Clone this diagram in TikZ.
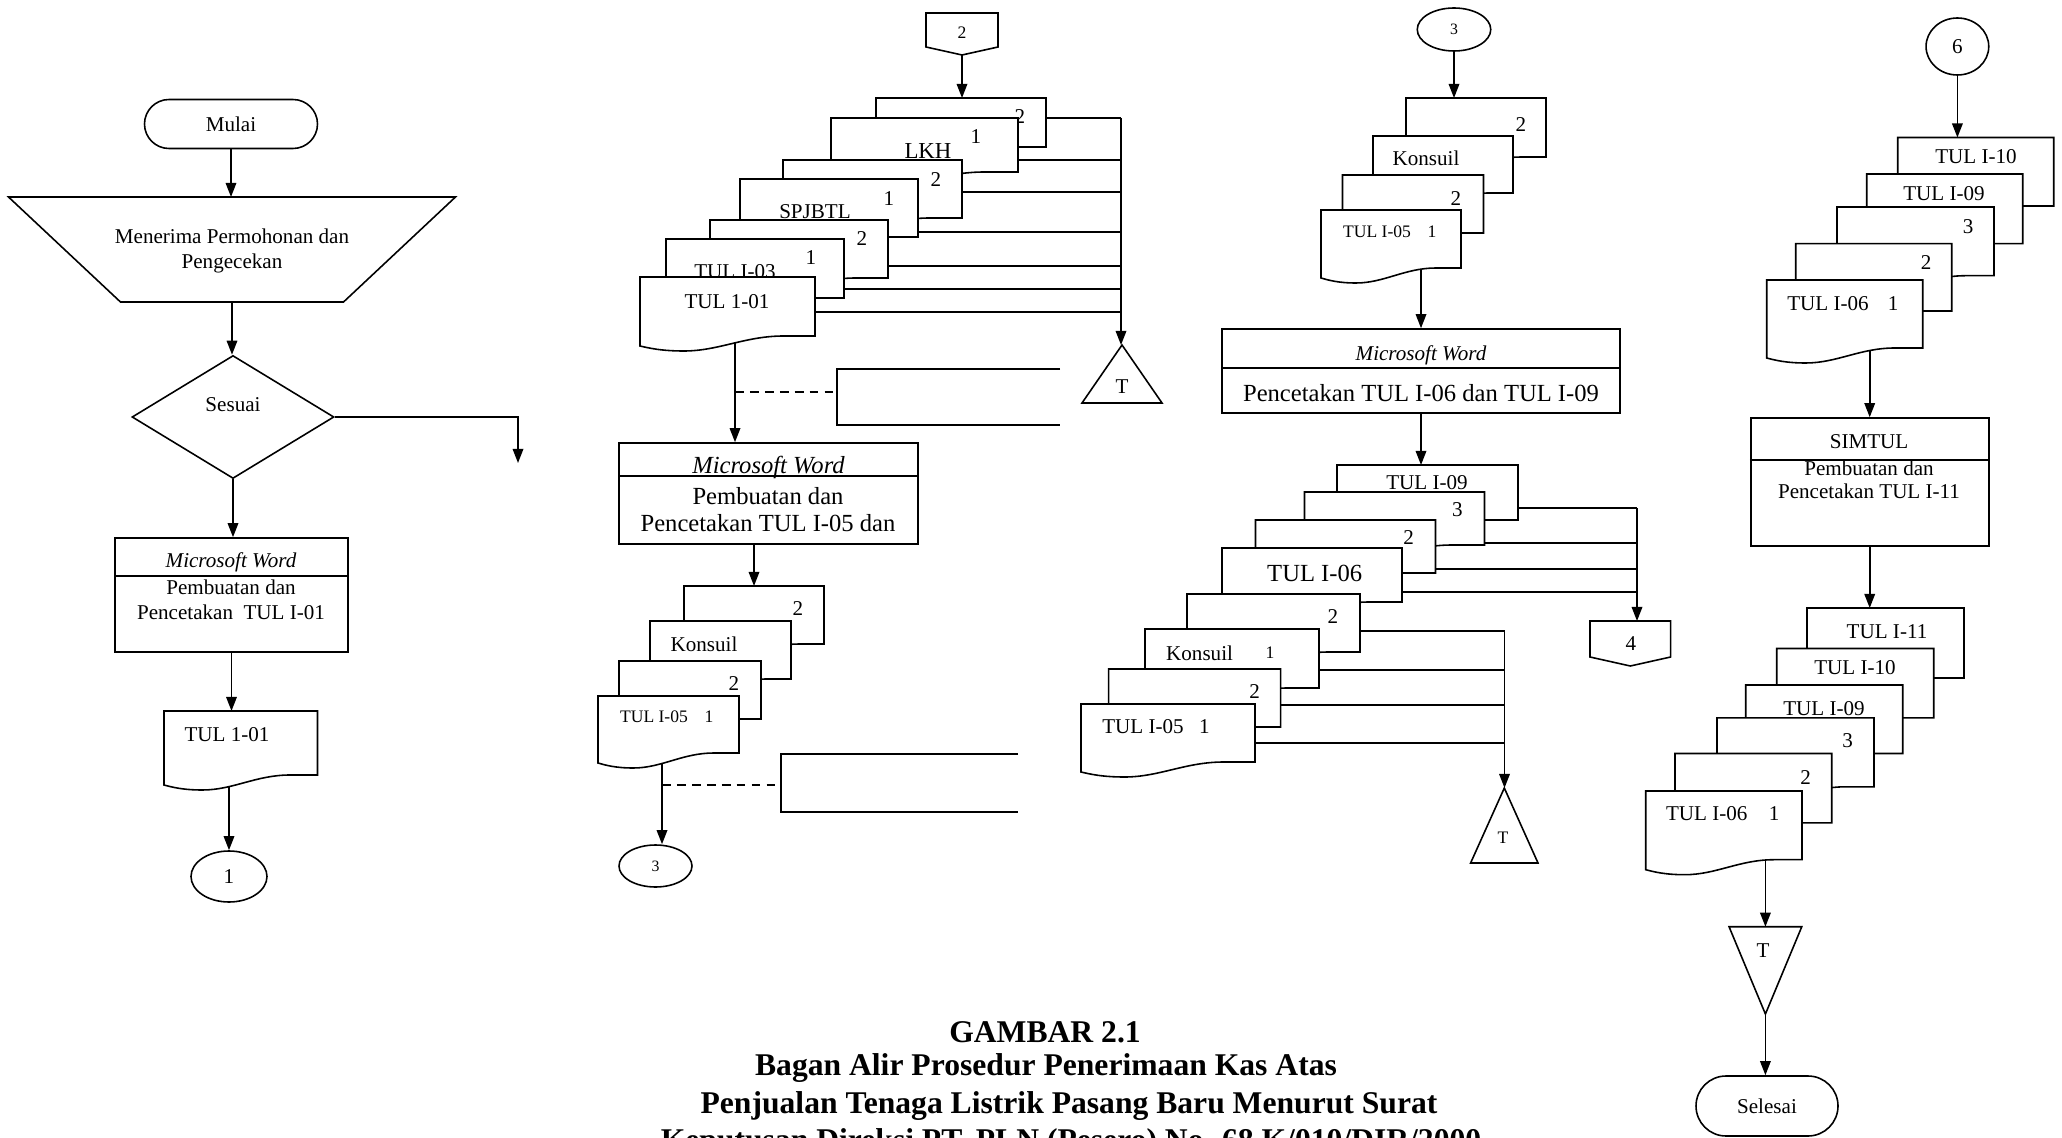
\documentclass[tikz,border=0pt]{standalone}
\usepackage{fontspec}
\setmainfont{Liberation Serif}
\usetikzlibrary{arrows.meta,shapes.geometric,shapes.misc,backgrounds}
\def\pxu{0.02cm}
\newcommand{\docu}[5]{%
  \draw[docline] (#2,#3) -- ({#2+#4},#3) -- ({#2+#4},{#3+#5}) -- ({#2+0.82*#4},{#3+#5})
    .. controls ({#2+0.6*#4},{#3+#5}) and ({#2+0.45*#4},{#3+#5+15}) .. ({#2+0.25*#4},{#3+#5+15})
    .. controls ({#2+0.12*#4},{#3+#5+15}) and ({#2+0.05*#4},{#3+#5+12}) .. (#2,{#3+#5+10}) -- cycle;
  \node[hold, minimum width={#4*\pxu}, minimum height={#5*\pxu}] (#1) at ({#2+0.5*#4},{#3+0.5*#5}) {};}
\begin{document}
\begin{tikzpicture}[x=0.02cm, y=-0.02cm,
    ln/.style={line width=0.9pt},
    flow/.style={line width=0.9pt, -{Triangle[length=8pt,width=6pt]}},
    docline/.style={draw, line width=0.9pt, fill=white},
    box/.style={draw, line width=0.9pt, fill=white, inner sep=0pt},
    hold/.style={inner sep=0pt, outer sep=0pt},
    lbl/.style={inner sep=0pt, font=\fontsize{12}{14}\selectfont},
    sml/.style={inner sep=0pt, font=\fontsize{10}{12}\selectfont},
    big/.style={inner sep=0pt, font=\fontsize{14}{16}\selectfont},
    captext/.style={inner sep=0pt, font=\bfseries\fontsize{18}{20}\selectfont}]
  \useasboundingbox (0,0) rectangle (2062,1138);
  \clip (0,0) rectangle (2062,1138);

  \node[box, rounded rectangle, minimum width={173*\pxu}, minimum height={49*\pxu}, lbl] (mulai) at (231,124) {Mulai};
  \node[hold, minimum width={447*\pxu}, minimum height={105*\pxu}] (terima) at (232,249.5) {};
  \draw[docline] (terima.north west) -- (terima.north east) -- ([xshift=-2.24cm]terima.south east) -- ([xshift=2.24cm]terima.south west) -- cycle;
  \node[lbl, align=center] (terimat) at (232,251) {Menerima Permohonan dan\\Pengecekan};
  \node[box, diamond, minimum width={202*\pxu}, minimum height={123*\pxu}] (sesuai) at (233,417) {};
  \node[lbl] (sesuait) at (233,405) {Sesuai};
  \coordinate (ya) at (518,463);
  \node[box, minimum width={233*\pxu}, minimum height={114*\pxu}] (mw1) at (231.5,595) {};
  \node[lbl, font=\itshape\fontsize{12}{14}\selectfont] (mw1a) at (231,562) {Microsoft Word};
  \node[lbl] (mw1b) at (231,587) {Pembuatan dan};
  \node[lbl] (mw1c) at (231,612) {Pencetakan\ \ TUL I-01};
  \draw[ln] ([yshift=-0.78cm]mw1.north west) -- ([yshift=-0.78cm]mw1.north east);
  \docu{d00}{164}{711}{153.5}{64}
  \node[lbl] (t00) at (227,735) {TUL 1-01};
  \node[box, ellipse, minimum width={76*\pxu}, minimum height={51*\pxu}, lbl] (c1) at (229,876.5) {1};

  \draw[flow] (mulai.south) -- (mulai.south |- terima.north);
  \draw[flow] (terima.south) -- (terima.south |- sesuai.north);
  \draw[flow] (sesuai.east) -- (sesuai.east -| ya) -- (ya);
  \draw[flow] (sesuai.south) -- (sesuai.south |- mw1.north);
  \draw[flow] (mw1.south) -- (mw1.south |- d00.north);

  \node[hold, minimum width={72*\pxu}, minimum height={42*\pxu}] (con2) at (962,34) {};
  \draw[docline] (con2.north west) -- (con2.north east) -- ([yshift=0.16cm]con2.south east) -- (con2.south) -- ([yshift=0.16cm]con2.south west) -- cycle;
  \node[sml] (con2t) at (962,33) {2};

  \docu{d10}{876}{98}{170}{49}
  \node[lbl] (t10) at (1020,117) {2};
  \docu{d11}{831}{118}{187}{54}
  \node[lbl] (t11) at (976,137) {1};
  \node[lbl, font=\fontsize{13}{15}\selectfont] (t11b) at (928,151) {LKH};
  \docu{d12}{783}{160}{179}{58}
  \node[lbl] (t12) at (936,180) {2};
  \docu{d13}{740}{179}{178}{58}
  \node[lbl] (t13) at (889,199) {1};
  \node[lbl] (t13b) at (815,212) {SPJBTL};
  \docu{d14}{710}{220}{178}{58}
  \node[lbl] (t14) at (862,239) {2};
  \docu{d15}{666}{239}{178}{59}
  \node[lbl] (t15) at (811,258) {1};
  \node[lbl] (t15b) at (735,272) {TUL I-03};
  \docu{d16}{640}{277}{175}{59}
  \node[lbl] (t16) at (727,302) {TUL 1-01};

  \node[hold, minimum width={80*\pxu}, minimum height={58*\pxu}] (tri1) at (1122,374) {};
  \draw[docline] (tri1.south west) -- (tri1.north) -- (tri1.south east) -- cycle;
  \node[lbl] (tri1t) at (1122,387) {T};
  \foreach \dn/\y [count=\i] in {d10/118, d11/160, d12/192, d13/232, d14/266, d15/289, d16/312}{
    \coordinate (k\i) at (1121,\y);
    \draw[ln] (\dn.east |- k\i) -- (k\i);}
  \draw[flow] (k1) -- (k1 |- tri1.north);
  \draw[flow] (con2.south) -- (con2.south |- d10.north);

  \node[hold, minimum width={223*\pxu}, minimum height={56*\pxu}] (ann1) at (948.5,397) {};
  \draw[ln] (ann1.north east) -- (ann1.north west) -- (ann1.south west) -- (ann1.south east);
  \coordinate (j1) at (735,392);
  \draw[ln, dash pattern=on 5pt off 3.5pt] (j1) -- (j1 -| ann1.west);

  \node[box, minimum width={299*\pxu}, minimum height={101*\pxu}] (mw2) at (768.5,493.5) {};
  \node[big, font=\itshape\fontsize{14}{16}\selectfont] (mw2a) at (768.5,467) {Microsoft Word};
  \node[big] (mw2b) at (768,496) {Pembuatan dan};
  \node[big] (mw2c) at (768,523) {Pencetakan TUL I-05 dan};
  \draw[ln] ([yshift=-0.68cm]mw2.north west) -- ([yshift=-0.68cm]mw2.north east);

  \docu{d20}{684}{586}{140}{58}
  \node[lbl] (t20) at (798,609) {2};
  \docu{d21}{650}{621}{141}{58}
  \node[lbl] (t21) at (704,644) {Konsuil};
  \docu{d22}{619}{661}{142}{58}
  \node[lbl] (t22) at (734,684) {2};
  \docu{d23}{598}{696}{141}{57}
  \node[sml] (t23) at (654,717) {TUL I-05};
  \node[sml] (t23b) at (709,717) {1};
  \draw[flow] (d20.north |- mw2.south) -- (d20.north);

  \node[hold, minimum width={237*\pxu}, minimum height={58*\pxu}] (ann2) at (899.5,783) {};
  \draw[ln] (ann2.north east) -- (ann2.north west) -- (ann2.south west) -- (ann2.south east);
  \coordinate (j2) at (662,785);
  \draw[ln, dash pattern=on 5pt off 3.5pt] (j2) -- (j2 -| ann2.west);
  \node[box, ellipse, minimum width={73*\pxu}, minimum height={42*\pxu}, font=\fontsize{9}{10}\selectfont] (c3a) at (655.5,866) {3};

  \node[box, ellipse, minimum width={73.5*\pxu}, minimum height={43*\pxu}, font=\fontsize{9}{10}\selectfont] (c3b) at (1454,29.5) {3};
  \docu{d30}{1406}{98}{140}{59}
  \node[lbl] (t30) at (1521,125) {2};
  \docu{d31}{1373}{136}{140}{57}
  \node[lbl] (t31) at (1426,158) {Konsuil};
  \docu{d32}{1342.5}{175}{141}{58}
  \node[lbl] (t32) at (1456,199) {2};
  \docu{d33}{1321}{210}{140}{58}
  \node[sml] (t33) at (1377,232) {TUL I-05};
  \node[sml] (t33b) at (1432,232) {1};
  \draw[flow] (c3b.south) -- (c3b.south |- d30.north);

  \node[box, minimum width={398*\pxu}, minimum height={84*\pxu}] (mw3) at (1421,371) {};
  \node[lbl, font=\itshape\fontsize{12}{14}\selectfont] (mw3a) at (1421,355) {Microsoft Word};
  \node[big] (mw3b) at (1421,393) {Pencetakan TUL I-06 dan TUL I-09};
  \draw[ln] ([yshift=-0.8cm]mw3.north west) -- ([yshift=-0.8cm]mw3.north east);

  \docu{d40}{1337}{465}{181}{55}
  \node[lbl] (t40) at (1427,483) {TUL I-09};
  \docu{d41}{1304.5}{492}{180}{53}
  \node[lbl] (t41) at (1457.5,510) {3};
  \docu{d42}{1255.5}{520}{180}{53}
  \node[lbl] (t42) at (1408.6,538) {2};
  \docu{d43}{1222}{548}{180}{54}
  \node[big] (t43) at (1314.7,573) {TUL I-06};
  \docu{d44}{1187}{594}{173}{58}
  \node[lbl] (t44) at (1333,617) {2};
  \docu{d45}{1145}{629}{174}{59}
  \node[lbl] (t45) at (1199.6,653) {Konsuil};
  \node[sml] (t45b) at (1270,653) {1};
  \docu{d46}{1108.6}{669}{172}{58}
  \node[lbl] (t46) at (1254.7,692) {2};
  \docu{d47}{1081}{704}{174}{58}
  \node[lbl] (t47) at (1143,727) {TUL I-05};
  \node[lbl] (t47b) at (1204.5,727) {1};
  \draw[flow] (mw3.south) -- (mw3.south |- d40.north);

  \node[hold, minimum width={80.6*\pxu}, minimum height={45*\pxu}] (con4) at (1630.3,643.5) {};
  \draw[docline] (con4.north west) -- (con4.north east) -- ([yshift=0.18cm]con4.south east) -- (con4.south) -- ([yshift=0.18cm]con4.south west) -- cycle;
  \node[lbl] (con4t) at (1631,644) {4};
  \foreach \dn/\y [count=\i] in {d40/508, d41/543, d42/569, d43/592}{
    \coordinate (r\i) at (1637,\y);
    \draw[ln] (\dn.east |- r\i) -- (r\i);}
  \draw[flow] (r1) -- (r1 |- con4.north);

  \node[hold, minimum width={67.4*\pxu}, minimum height={75*\pxu}] (tri2) at (1504.3,825.5) {};
  \draw[docline] (tri2.south west) -- (tri2.north) -- (tri2.south east) -- cycle;
  \node[sml] (tri2t) at (1503,838) {T};
  \foreach \dn/\y [count=\i] in {d44/631, d45/670, d46/705, d47/743}{
    \coordinate (q\i) at (1504.5,\y);
    \draw[ln] (\dn.east |- q\i) -- (q\i);}
  \draw[flow] (q1) -- (q1 |- tri2.north);

  \node[box, ellipse, minimum width={62.7*\pxu}, minimum height={57*\pxu}, lbl] (c6) at (1957.4,46.5) {6};
  \docu{d50}{1897.7}{137.5}{156}{68.5}
  \node[lbl] (t50) at (1976,157) {TUL I-10};
  \docu{d51}{1866.7}{174}{156}{69.6}
  \node[lbl] (t51) at (1944,193.6) {TUL I-09};
  \docu{d52}{1837}{207}{157}{68.7}
  \node[lbl] (t52) at (1968,227) {3};
  \docu{d53}{1795.7}{243.6}{156}{67.4}
  \node[lbl] (t53) at (1926,262.5) {2};
  \docu{d54}{1766.7}{280}{156}{68}
  \node[lbl] (t54) at (1828,304) {TUL I-06};
  \node[lbl] (t54b) at (1893,304) {1};
  \draw[flow] (c6.south) -- (c6.south |- d50.north);

  \node[box, minimum width={238*\pxu}, minimum height={128*\pxu}] (mw5) at (1869.7,482) {};
  \node[lbl] (mw5a) at (1869,442) {SIMTUL};
  \node[lbl] (mw5b) at (1869,468) {Pembuatan dan};
  \node[lbl] (mw5c) at (1869,491) {Pencetakan TUL I-11};
  \draw[ln] ([yshift=-0.86cm]mw5.north west) -- ([yshift=-0.86cm]mw5.north east);

  \docu{d60}{1807}{608}{157}{70}
  \node[lbl] (t60) at (1887,632) {TUL I-11};
  \docu{d61}{1776.7}{648.5}{157}{69.3}
  \node[lbl] (t61) at (1855,667.6) {TUL I-10};
  \docu{d62}{1745.7}{685}{157}{68.5}
  \node[lbl] (t62) at (1824,709) {TUL I-09};
  \docu{d63}{1717}{717.8}{157}{69}
  \node[lbl] (t63) at (1847.7,741) {3};
  \docu{d64}{1675}{753.5}{156.7}{69.3}
  \node[lbl] (t64) at (1805.7,777.5) {2};
  \docu{d65}{1645.7}{791}{156.3}{68.7}
  \node[lbl] (t65) at (1706.7,813.6) {TUL I-06};
  \node[lbl] (t65b) at (1774,813.6) {1};
  \draw[flow] (mw5.south) -- (mw5.south |- d60.north);

  \node[hold, minimum width={72.7*\pxu}, minimum height={87.3*\pxu}] (tri3) at (1765.4,970.4) {};
  \draw[docline] (tri3.north west) -- (tri3.south) -- (tri3.north east) -- cycle;
  \node[lbl] (tri3t) at (1763,950.7) {T};
  \node[box, rounded rectangle, minimum width={142*\pxu}, minimum height={60*\pxu}, lbl] (selesai) at (1767,1106) {Selesai};
  \draw[flow] (tri3.south) -- (tri3.south |- selesai.north);

  \node[captext] (cap1) at (1045,1032) {GAMBAR 2.1};
  \node[captext] (cap2) at (1046,1068) {Bagan Alir Prosedur Penerimaan Kas Atas};
  \node[captext] (cap3) at (1069,1106) {Penjualan Tenaga Listrik Pasang Baru Menurut Surat};
  \node[captext] (cap4) at (1071,1143) {Keputusan Direksi PT. PLN (Pesero) No. 68.K/010/DIR/2000};

  \begin{pgfonlayer}{background}
    \draw[flow] (c1.north |- d00.center) -- (c1.north);
    \draw[flow] (j1 |- d16.center) -- (j1 |- mw2.north);
    \draw[flow] (j2 |- d23.center) -- (j2 |- c3a.north);
    \draw[flow] (mw3.north |- d33.center) -- (mw3.north);
    \draw[flow] (mw5.north |- d54.center) -- (mw5.north);
    \draw[flow] (tri3.north |- d65.center) -- (tri3.north);
  \end{pgfonlayer}
\end{tikzpicture}
\end{document}
